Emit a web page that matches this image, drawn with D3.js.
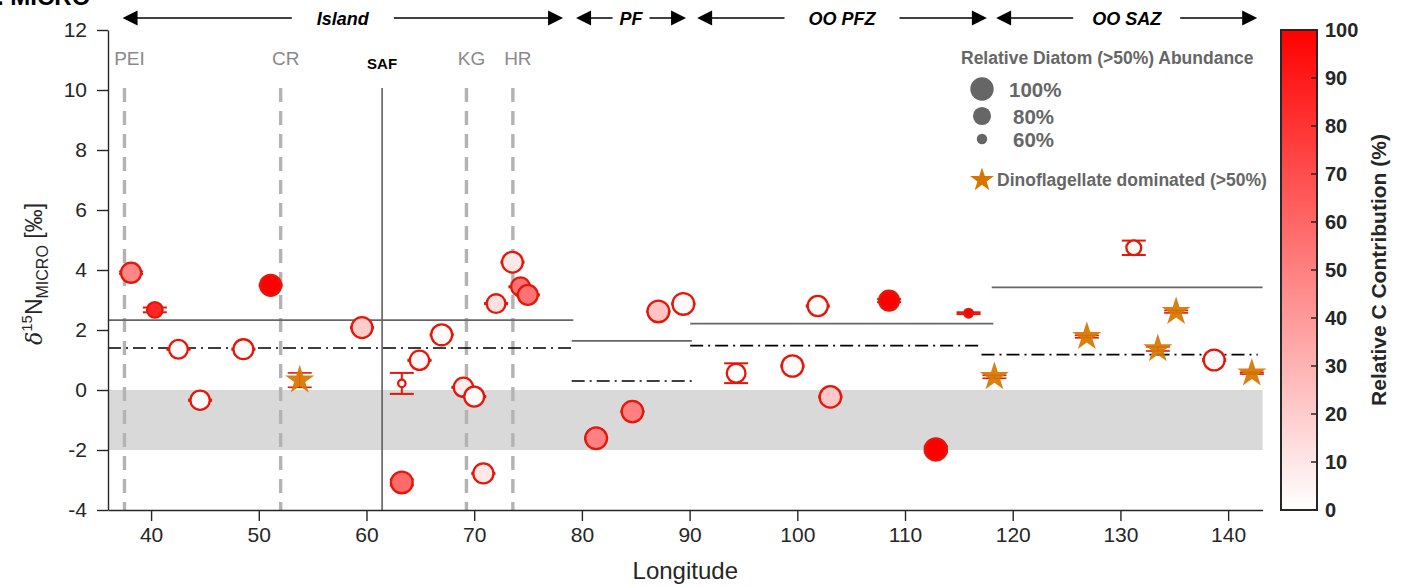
<!DOCTYPE html>
<html>
<head>
<meta charset="utf-8">
<script src="https://cdn.jsdelivr.net/npm/d3@7"></script>
<style>
  body { margin: 0; background: #fff; }
  svg { display: block; }
  text { font-family: "Liberation Sans", Arial, Helvetica, sans-serif; }
</style>
</head>
<body>
<svg id="chart" width="1406" height="586"></svg>
<script>
// ---- Station data (ordered by longitude) ----
const lon        = [38.14, 40.35, 42.54, 44.55, 48.57, 51.10, 53.80, 59.58, 63.28, 63.28, 64.92, 66.98, 69.00, 70.00, 70.85, 72.03, 73.55, 74.30, 74.98,
                    81.32, 84.69, 87.10, 89.42,
                    94.32, 99.55, 101.90, 103.07, 108.52, 112.86, 115.90,
                    118.30, 126.88, 131.24, 133.47, 135.17, 138.70, 142.20];
const d15N       = [3.91, 2.67, 1.36, -0.34, 1.36, 3.49, 0.33, 2.08, 0.22, -3.08, 0.99, 1.84, 0.09, -0.22, -2.78, 2.88, 4.26, 3.44, 3.17,
                    -1.61, -0.72, 2.62, 2.87,
                    0.56, 0.80, 2.80, -0.23, 2.98, -1.98, 2.56,
                    0.44, 1.78, 4.74, 1.37, 2.61, 1.00, 0.56];
const d15NErr    = [0.04, 0.08, 0.02, 0.02, 0.02, 0.03, 0.24, 0.02, 0.35, 0.10, 0.02, 0.02, 0.02, 0.02, 0.02, 0.02, 0.02, 0.02, 0.02,
                    0.03, 0.02, 0.02, 0.02,
                    0.33, 0.03, 0.02, 0.02, 0.05, 0.10, 0.03,
                    0.05, 0.04, 0.24, 0.07, 0.04, 0.03, 0.03];
// relative C contribution of the micro fraction (%)
const cContrib   = [47, 85, 1, 1, 1, 100, 0, 20, 2, 58, 3, 2, 7, 2, 9, 12, 9, 56, 55,
                    50, 50, 23, 2,
                    0, 2, 1, 22, 100, 100, 100,
                    0, 0, 2, 0, 0, 2, 0];
// relative diatom abundance (%), only where diatoms dominate
const diatomAbund = [87, 72, 82, 84, 86, 90, null, 90, 55, 93, 84, 90, 84, 86, 87, 82, 89, 82, 86,
                     93, 92, 93, 93,
                     82, 92, 87, 92, 86, 95, 57,
                     null, null, 70, null, null, 90, null];

// ---- Frontal zones ----
const zoneNames  = ["Island", "PF", "OO PFZ", "OO SAZ"];
const zoneStart  = [37.35, 79.46, 90.70, 118.46];
const zoneEnd    = [78.25, 89.67, 117.60, 142.70];
const zoneGapPad = [25, 7, 24, 19];
// zone means: solid = one statistic, dash-dot = another
const meanSolid      = [2.33, 1.64, 2.21, 3.42];
const meanSolidFrom  = [36.0, 79.05, 90.05, 118.05];
const meanSolidTo    = [79.2, 90.2, 118.2, 143.2];
const meanDash       = [1.40, 0.30, 1.48, 1.18];
const meanDashFrom   = [36.0, 79.05, 90.05, 117.1];
const meanDashTo     = [79.2, 90.2, 117.1, 142.75];

// ---- Island / front markers ----
const siteNames = ["PEI", "CR", "KG", "HR"];
const siteLon   = [37.53, 52.03, 69.28, 73.59];
const safLon    = 61.45;

// ---- Axis ticks & legend ----
const xTicks = d3.range(40, 141, 10);
const yTicks = d3.range(-4, 13, 2);
const cTicks = d3.range(0, 101, 10);
const sizeLegend = [100, 80, 60];

// ---- Layout ----
const svg = d3.select("#chart");
const x = d3.scaleLinear().domain([36, 143.2]).range([108, 1262.6]);
const y = d3.scaleLinear().domain([-4, 12]).range([510, 30]);
const color = d3.scaleLinear().domain([0, 100]).range(["#ffffff", "#ff0000"]);
const rad = d3.scaleRadial().domain([50, 100]).range([0, 11.7]).clamp(true);

const RED = "#e3170a", STAR = "#d67600", INK = "#262626";

// grey reference band 0 to -2
svg.append("rect")
  .attr("x", x(36)).attr("width", x(143.2) - x(36))
  .attr("y", y(0)).attr("height", y(-2) - y(0))
  .attr("fill", "#d9d9d9");

// dashed site markers
siteLon.forEach((L, i) => {
  svg.append("line")
    .attr("x1", x(L)).attr("x2", x(L)).attr("y1", y(10.07)).attr("y2", y(-4))
    .attr("stroke", "#b3b3b3").attr("stroke-width", 3.4).attr("stroke-dasharray", "14,9");
  svg.append("text")
    .attr("x", x(L) + 5).attr("y", 65).attr("text-anchor", "middle")
    .attr("font-size", 19).attr("fill", "#8a8a8a").text(siteNames[i]);
});

// SAF
svg.append("line")
  .attr("x1", x(safLon)).attr("x2", x(safLon)).attr("y1", y(10.07)).attr("y2", y(-4))
  .attr("stroke", "#555").attr("stroke-width", 1.5);
svg.append("text")
  .attr("x", x(safLon)).attr("y", 69).attr("text-anchor", "middle")
  .attr("font-size", 15).attr("font-weight", "bold").attr("fill", "#000").text("SAF");

// zone means
zoneNames.forEach((_, i) => {
  svg.append("line")
    .attr("x1", x(meanSolidFrom[i])).attr("x2", x(meanSolidTo[i]))
    .attr("y1", y(meanSolid[i])).attr("y2", y(meanSolid[i]))
    .attr("stroke", "#666").attr("stroke-width", 1.7);
  svg.append("line")
    .attr("x1", x(meanDashFrom[i])).attr("x2", x(meanDashTo[i]))
    .attr("y1", y(meanDash[i])).attr("y2", y(meanDash[i]))
    .attr("stroke", "#000").attr("stroke-width", 1.7).attr("stroke-dasharray", "13,5,2,5");
});

// zone arrows along the top
const arrowY = 18;
function arrowHead(xTip, dir) {
  const L = 15, H = 7.5;
  svg.append("path")
    .attr("d", `M${xTip},${arrowY} L${xTip - dir * L},${arrowY - H} L${xTip - dir * L},${arrowY + H} Z`)
    .attr("fill", "#000");
}
zoneNames.forEach((name, i) => {
  const x0 = x(zoneStart[i]), x1 = x(zoneEnd[i]), xm = (x0 + x1) / 2;
  const t = svg.append("text")
    .attr("x", xm).attr("y", arrowY + 7).attr("text-anchor", "middle")
    .attr("font-size", 18).attr("font-weight", "bold").attr("font-style", "italic")
    .attr("fill", "#000").text(name);
  const hw = t.node().getComputedTextLength() / 2 + zoneGapPad[i];
  svg.append("line").attr("x1", x0 + 10).attr("x2", xm - hw).attr("y1", arrowY).attr("y2", arrowY)
    .attr("stroke", "#000").attr("stroke-width", 1.5);
  svg.append("line").attr("x1", xm + hw).attr("x2", x1 - 10).attr("y1", arrowY).attr("y2", arrowY)
    .attr("stroke", "#000").attr("stroke-width", 1.5);
  arrowHead(x0, -1);
  arrowHead(x1, 1);
});

// station records
const pts = lon.map((L, i) => ({
  lon: L, v: d15N[i], e: d15NErr[i], c: cContrib[i], a: diatomAbund[i]
}));
const circ = pts.filter(d => d.a !== null);
const dino = pts.filter(d => d.a === null);
const capW = 12;

function errorBars(sel, w) {
  sel.append("line")
    .attr("x1", d => x(d.lon)).attr("x2", d => x(d.lon))
    .attr("y1", d => y(d.v - d.e)).attr("y2", d => y(d.v + d.e))
    .attr("stroke", RED).attr("stroke-width", w);
  sel.append("line")
    .attr("x1", d => x(d.lon) - capW).attr("x2", d => x(d.lon) + capW)
    .attr("y1", d => y(d.v + d.e)).attr("y2", d => y(d.v + d.e))
    .attr("stroke", RED).attr("stroke-width", w);
  sel.append("line")
    .attr("x1", d => x(d.lon) - capW).attr("x2", d => x(d.lon) + capW)
    .attr("y1", d => y(d.v - d.e)).attr("y2", d => y(d.v - d.e))
    .attr("stroke", RED).attr("stroke-width", w);
}

// diatom-dominated stations: error bars under the circles
const cg = svg.append("g");
cg.selectAll("g.pt").data(circ).join("g").attr("class", "pt").each(function (d) {
  const g = d3.select(this);
  errorBars(g.datum(d), 2);
  g.append("circle")
    .attr("cx", x(d.lon)).attr("cy", y(d.v)).attr("r", rad(d.a))
    .attr("fill", color(d.c)).attr("stroke", RED).attr("stroke-width", 2.3);
});

// dinoflagellate-dominated stations
const star = d3.symbol().type(d3.symbolStar);
const sg = svg.append("g");
sg.selectAll("g.eb").data(dino).join("g").attr("class", "eb").each(function (d) {
  errorBars(d3.select(this).datum(d), 1.6);
});
sg.selectAll("path.star").data(dino).join("path").attr("class", "star")
  .attr("transform", d => `translate(${x(d.lon)},${y(d.v)})`)
  .attr("d", star.size(262)()).attr("fill", STAR).attr("fill-opacity", 0.93);

// ---- Axes ----
const fmt = d => String(d);
const xAxis = svg.append("g").attr("transform", `translate(0,${y(-4)})`)
  .call(d3.axisBottom(x).tickValues(xTicks).tickFormat(fmt).tickSize(11).tickPadding(6).tickSizeOuter(0));
const yAxis = svg.append("g").attr("transform", `translate(${x(36)},0)`)
  .call(d3.axisLeft(y).tickValues(yTicks).tickFormat(fmt).tickSize(11).tickPadding(10).tickSizeOuter(0));
[xAxis, yAxis].forEach(a => {
  a.select(".domain").attr("stroke", INK).attr("stroke-width", 1.4);
  a.selectAll(".tick line").attr("stroke", INK).attr("stroke-width", 1.4);
  a.selectAll(".tick text").attr("font-size", 21).attr("fill", INK)
    .attr("font-family", "'Liberation Sans', Arial, sans-serif");
});

svg.append("text").attr("x", (x(36) + x(143.2)) / 2).attr("y", 579).attr("text-anchor", "middle")
  .attr("font-size", 24).attr("fill", INK).text("Longitude");

const yl = svg.append("text").attr("transform", "translate(42,274) rotate(-90)")
  .attr("text-anchor", "middle").attr("font-size", 23).attr("fill", INK);
yl.append("tspan").attr("font-style", "italic").attr("font-family", "'DejaVu Serif', serif").attr("font-size", 22).text("δ");
yl.append("tspan").attr("font-size", 15).attr("dy", -10).text("15");
yl.append("tspan").attr("dy", 10).text("N");
yl.append("tspan").attr("font-size", 16).attr("dy", 6).text("MICRO");
yl.append("tspan").attr("dy", -6).text(" [‰]");

// panel tag
svg.append("text").attr("x", -3).attr("y", 5).attr("font-size", 24).attr("font-weight", "bold")
  .attr("fill", "#000").text(". MICRO");

// ---- Legend ----
const LG = "#666";
svg.append("text").attr("x", 961).attr("y", 64).attr("font-size", 17.5).attr("font-weight", "bold")
  .attr("fill", LG).text("Relative Diatom (>50%) Abundance");
const legY = [89, 116, 139];
sizeLegend.forEach((a, i) => {
  svg.append("circle").attr("cx", 982).attr("cy", legY[i]).attr("r", rad(a)).attr("fill", LG);
  svg.append("text").attr("x", i === 0 ? 1009 : 1013).attr("y", legY[i] + 7.5)
    .attr("font-size", 20.5).attr("font-weight", "bold").attr("fill", LG).text(a + "%");
});
svg.append("path").attr("transform", "translate(982,180)").attr("d", star.size(178)()).attr("fill", STAR);
svg.append("text").attr("x", 997).attr("y", 186).attr("font-size", 17.5).attr("font-weight", "bold")
  .attr("fill", LG).text("Dinoflagellate dominated (>50%)");

// ---- Colour bar ----
const cb = { x: 1281, w: 36 };
const cy = d3.scaleLinear().domain([0, 100]).range([510, 30]);
const grad = svg.append("defs").append("linearGradient").attr("id", "cgrad")
  .attr("x1", 0).attr("y1", 1).attr("x2", 0).attr("y2", 0);
cTicks.forEach(t => grad.append("stop").attr("offset", t / 100).attr("stop-color", color(t)));
svg.append("rect").attr("x", cb.x).attr("y", cy(100)).attr("width", cb.w).attr("height", cy(0) - cy(100))
  .attr("fill", "url(#cgrad)").attr("stroke", INK).attr("stroke-width", 2);
cTicks.forEach(t => {
  svg.append("line").attr("x1", cb.x + cb.w - 6).attr("x2", cb.x + cb.w).attr("y1", cy(t)).attr("y2", cy(t))
    .attr("stroke", INK).attr("stroke-width", 1.5);
  svg.append("text").attr("x", cb.x + cb.w + 8).attr("y", cy(t)).attr("dy", "0.36em")
    .attr("font-size", 20).attr("font-weight", "bold").attr("fill", INK).text(t);
});
svg.append("text").attr("transform", "translate(1386,270) rotate(-90)").attr("text-anchor", "middle")
  .attr("font-size", 21).attr("font-weight", "bold").attr("fill", INK).text("Relative C Contribution (%)");
</script>
</body>
</html>
